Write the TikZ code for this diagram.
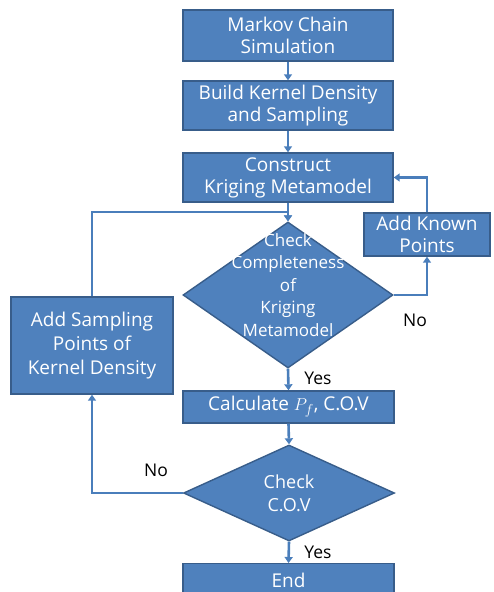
\documentclass[tikz,border=0pt]{standalone}
\usepackage{fontspec}
\setmainfont{Open Sans}
\usetikzlibrary{shapes.geometric,arrows.meta}
\definecolor{boxfill}{HTML}{4F81BD}
\definecolor{boxedge}{HTML}{385D8A}
\definecolor{linecol}{HTML}{4A7EBB}
\begin{document}
\begin{tikzpicture}[x=1pt,y=-1pt,
  box/.style={draw=boxedge,line width=1.4pt,fill=boxfill,text=white,align=center,inner sep=0pt,font=\fontsize{19}{22}\selectfont},
  dia/.style={draw=boxedge,line width=1.4pt,fill=boxfill,shape=diamond,inner sep=0pt},
  dtext/.style={text=white,align=center,font=\fontsize{17}{22.5}\selectfont},
  conn/.style={draw=linecol,line width=2.6pt,-{Triangle[width=8pt,length=6pt]}},
  lbl/.style={text=black,font=\fontsize{17.5}{20}\selectfont}]
\useasboundingbox (0,0) rectangle (493,592);
\clip (0,0) rectangle (493,592);
\node[box,minimum width=210pt,minimum height=51pt] (b1) at (288,35.5) {Markov Chain\\Simulation};
\node[box,minimum width=210pt,minimum height=49pt] (b2) at (288,105.5) {Build Kernel Density\\and Sampling};
\node[box,minimum width=210pt,minimum height=49pt] (b3) at (288,177.5) {Construct\\Kriging Metamodel};
\node[dia,minimum width=210pt,minimum height=146pt] (d1) at (288,295) {};
\node[dtext] (d1t) at (288,285) {Check\\Completeness\\of\\Kriging\\Metamodel};
\node[box,minimum width=126pt,minimum height=43pt] (kn) at (427,234.5) {Add Known\\Points};
\node[box,minimum width=162pt,minimum height=97pt,font=\fontsize{19}{24}\selectfont] (sp) at (92,345.5) {Add Sampling\\Points of\\Kernel Density};
\node[box,minimum width=211pt,minimum height=32pt] (calc) at (288.5,407) {Calculate $P_f$, C.O.V};
\node[dia,minimum width=211pt,minimum height=96pt] (d2) at (289,493) {};
\node[dtext,font=\fontsize{18}{23}\selectfont] (d2t) at (289,493) {Check\\C.O.V};
\node[box,minimum width=211pt,minimum height=34pt,anchor=north] (end) at (288.5,563) {\raisebox{-3pt}{End}};
\coordinate (join) at (288,212);
\node[lbl] (yes1) at (318,378) {Yes};
\node[lbl] (yes2) at (318,552) {Yes};
\node[lbl] (no1) at (415,320) {No};
\node[lbl] (no2) at (156,470) {No};
\draw[conn] (b1.south) -- (b2.north);
\draw[conn] (b2.south) -- (b3.north);
\draw[conn] (b3.south) -- (d1.north);
\draw[conn] (sp.north) |- (join) -- (d1.north);
\draw[conn] (d1.east) -| (kn.south);
\draw[conn] (kn.north) |- (b3.east);
\draw[conn] (d1.south) -- (calc.north);
\draw[conn] (calc.south) -- (d2.north);
\draw[conn] (d2.south) -- (end.north);
\draw[conn] (d2.west) -| (sp.south);
\end{tikzpicture}
\end{document}
